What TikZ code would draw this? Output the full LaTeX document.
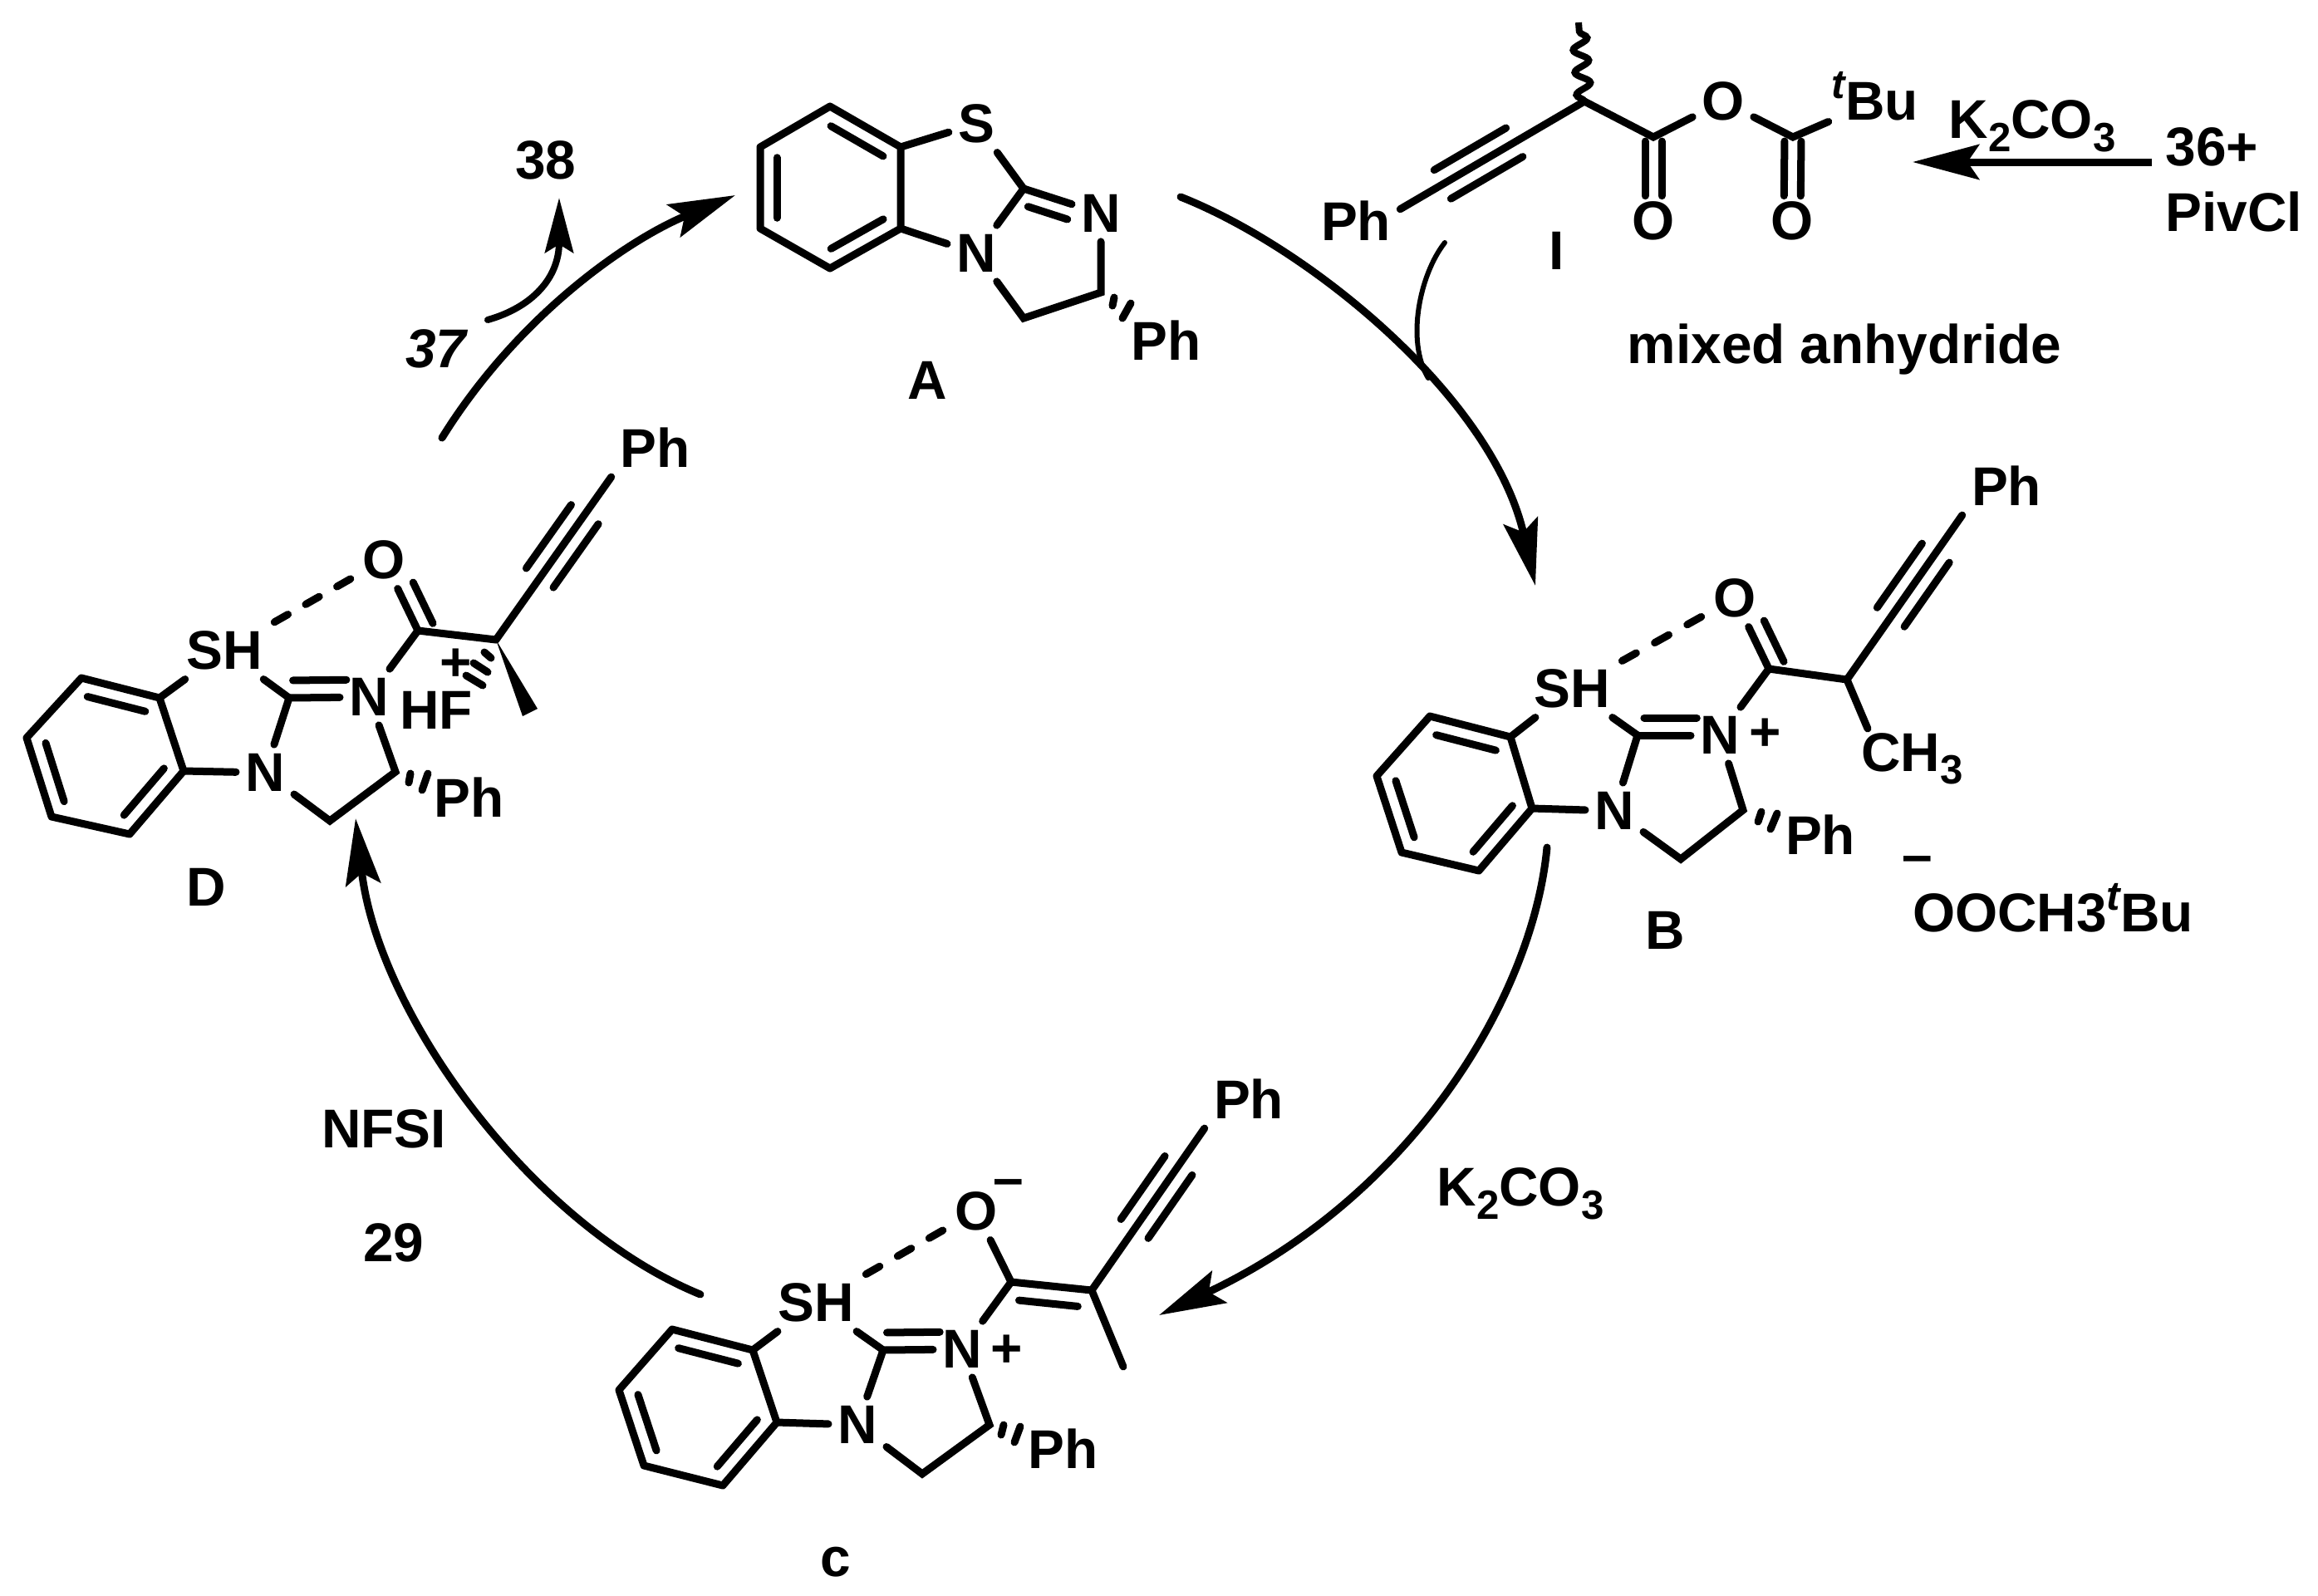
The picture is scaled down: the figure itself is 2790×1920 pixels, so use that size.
\documentclass[tikz,border=0pt]{standalone}
\usepackage{fontspec}
\setmainfont{Liberation Sans}[BoldFont=* Bold,ItalicFont=* Italic,BoldItalicFont=* Bold Italic]
\usetikzlibrary{calc,arrows.meta,decorations.pathmorphing}

\tikzset{
	atom/.style = {inner sep = 3pt},
	bond/.style = {line width = .09cm, line cap = round},
	wavy/.style = {line width = .08cm, decorate, decoration = {snake, amplitude = .09cm, segment length = .27cm}},
	cycle arrow/.style = {line width = .09cm, line cap = round, -{Stealth[length = .8cm, width = .42cm, inset = .14cm]}}
}

% line beside the bond a-b: offset, start and end as fractions of a-b
\newcommand{\sidebond}[5]{\draw[bond] ($(#1)!#4!(#2)!#3!90:(#2)$) -- ($(#1)!#5!(#2)!#3!90:(#2)$);}
\newcommand{\triplebond}[2]{
	\draw[bond] (#1) -- (#2);
	\sidebond{#1}{#2}{.2cm}{.38}{.77}
	\sidebond{#1}{#2}{-.2cm}{.38}{.77}
}
% three dashes between two atoms
\newcommand{\hbond}[2]{
	\path (#1) -- (#2) coordinate[pos = 0] (hs) coordinate[pos = 1] (he);
	\foreach \from/\to in {.034/.2, .417/.583, .8/.966}
		\draw[bond] ($(hs)!\from!(he)$) -- ($(hs)!\to!(he)$);
}
% benzene ring, vertices #11 to #16 clockwise from the top
\newcommand{\benzene}[1]{
	\draw[bond, line join = round] (#11) -- (#12) -- (#13) -- (#14) -- (#15) -- (#16) -- cycle;
	\sidebond{#11}{#12}{-.2cm}{.13}{.87}
	\sidebond{#13}{#14}{-.2cm}{.13}{.87}
	\sidebond{#15}{#16}{-.2cm}{.13}{.87}
}
\newcommand{\chemsub}[1]{\raisebox{-.45ex}{\fontsize{14}{14}\selectfont #1}}
\newcommand{\chemt}{\smash{\raisebox{.75ex}{\fontsize{14}{14}\selectfont\itshape t}}}

\begin{document}
\begin{tikzpicture}[
			x = .01cm, y = -.01cm,
			every node/.style = {inner sep = 0pt, font = \fontsize{18.7}{22}\selectfont\bfseries}
			]
			\useasboundingbox (0,0) rectangle (2790,1920);

			% A
			\coordinate (a1) at (999,128);
			\coordinate (a2) at (1084,177);
			\coordinate (a3) at (1084,275);
			\coordinate (a4) at (999,323);
			\coordinate (a5) at (915,275);
			\coordinate (a6) at (915,177);
			\coordinate (aC) at (1232,227);
			\coordinate (aCa) at (1232,383);
			\coordinate (aCb) at (1325,352);
			\node[atom] (aS) at (1175,149) {S};
			\node[atom] (aNa) at (1175,305) {N};
			\node[atom] (aNb) at (1325,257) {N};
			\node[atom] (aPh) at (1404,410) {Ph};
			\node (aLabel) at (1116,458) {A};
			\benzene{a}
			\draw[bond] (a2) -- (aS);
			\draw[bond] (aS) -- (aC);
			\draw[bond] (a3) -- (aNa);
			\draw[bond] (aNa) -- (aC);
			\draw[bond] (aC) -- (aNb);
			\sidebond{aC}{aNb}{-.19cm}{.12}{.63}
			\draw[bond] (aNa) -- (aCa) -- (aCb) -- (aNb);
			\draw[bond] (1341,358) -- (1339,368);
			\draw[bond] (1361,365) -- (1351,383);

			% I
			\coordinate (iCa) at (1907,122);
			\coordinate (iWave) at (1900,27);
			\coordinate (iCb) at (1990,165);
			\coordinate (iCc) at (2158,165);
			\node[atom] (iPh) at (1632,266) {Ph};
			\node[atom] (iO) at (2074,122) {O};
			\node[atom] (iOa) at (1990,266) {O};
			\node[atom] (iOb) at (2157,266) {O};
			\node[inner sep = 1pt] (iBu) at (2257,122) {\chemt Bu};
			\node (iLabel) at (1874,302) {I};
			\node (iName) at (2220,420) {mixed anhydride};
			\triplebond{iCa}{iPh.15}
			\draw[wavy] (iCa) -- (iWave);
			\draw[bond] (iCa) -- (iCb) -- (iO) -- (iCc) -- (iBu);
			\sidebond{iCb}{iOa}{.1cm}{.05}{.7}
			\sidebond{iCb}{iOa}{-.1cm}{.05}{.7}
			\sidebond{iCc}{iOb}{.1cm}{.05}{.7}
			\sidebond{iCc}{iOb}{-.1cm}{.05}{.7}

			% reagents of I
			\node (kcoTop) at (2446,152) {K\chemsub{2}CO\chemsub{3}};
			\node[anchor = west] (numTop) at (2606,177) {36+};
			\node[anchor = west] (pivTop) at (2606,255) {PivCl};
			\coordinate (kcoStart) at (2590,195);
			\coordinate (kcoEnd) at (2302,195);
			\draw[cycle arrow, line cap = butt] (kcoStart) -- (kcoEnd);

			% B
			\coordinate (b1) at (1721,862);
			\coordinate (b2) at (1818,887);
			\coordinate (b3) at (1844,973);
			\coordinate (b4) at (1780,1048);
			\coordinate (b5) at (1687,1026);
			\coordinate (b6) at (1657,934);
			\coordinate (bC) at (1971,885);
			\coordinate (bCa) at (2023,1034);
			\coordinate (bCb) at (2098,975);
			\coordinate (bCc) at (2129,805);
			\coordinate (bCd) at (2223,818);
			\node[atom] (bSH) at (1892,829) {SH};
			\node[atom] (bNa) at (1943,976) {N};
			\node[atom] (bNb) at (2070,885) {N};
			\node (bPlus) at (2125,884) {+};
			\node[atom] (bO) at (2088,720) {O};
			\node[atom] (bPhTop) at (2415,585) {Ph};
			\node[inner sep = 1pt, anchor = north west] (bMe) at (2236,878) {CH\chemsub{3}};
			\node[atom] (bPh) at (2191,1005) {Ph};
			\node (bMinus) at (2308,1041) {--};
			\node (bAnion) at (2471,1099) {OOCH3\chemt Bu};
			\node (bLabel) at (2004,1120) {B};
			\benzene{b}
			\draw[bond] (b2) -- (bSH);
			\draw[bond] (b3) -- (bNa);
			\draw[bond] (bSH) -- (bC);
			\draw[bond] (bC) -- (bNa);
			\draw[bond] (bC) -- (bNb);
			\sidebond{bC}{bNb}{.21cm}{.08}{.72}
			\draw[bond] (bNa) -- (bCa) -- (bCb) -- (bNb);
			\draw[bond] (bNb) -- (bCc) -- (bCd);
			\draw[bond] (bCd) -- ($(bMe.north west)+(12,-1)$);
			\draw[bond] (bCc) -- (bO);
			\sidebond{bCc}{bO}{-.2cm}{.0}{.58}
			\triplebond{bCd}{bPhTop.south west}
			\hbond{bSH}{bO}
			\draw[bond] (2120,977) -- (2116,989);
			\draw[bond] (2139,979) -- (2131,998);

			% c
			\coordinate (c1) at (809,1600);
			\coordinate (c2) at (906,1625);
			\coordinate (c3) at (935,1712);
			\coordinate (c4) at (870,1788);
			\coordinate (c5) at (775,1764);
			\coordinate (c6) at (745,1673);
			\coordinate (cC) at (1063,1625);
			\coordinate (cCa) at (1110,1774);
			\coordinate (cCb) at (1191,1715);
			\coordinate (cCc) at (1217,1543);
			\coordinate (cCd) at (1314,1553);
			\coordinate (cMe) at (1352,1645);
			\node[atom] (cSH) at (982,1568) {SH};
			\node[atom] (cNa) at (1032,1715) {N};
			\node[atom] (cNb) at (1158,1624) {N};
			\node (cPlus) at (1212,1626) {+};
			\node[atom] (cO) at (1175,1458) {O};
			\node (cMinus) at (1214,1430) {--};
			\node[atom] (cPhTop) at (1503,1323) {Ph};
			\node[atom] (cPh) at (1280,1744) {Ph};
			\node (cLabel) at (1006,1880) {c};
			\benzene{c}
			\draw[bond] (c2) -- (cSH);
			\draw[bond] (c3) -- (cNa);
			\draw[bond] (cSH) -- (cC);
			\draw[bond] (cC) -- (cNa);
			\draw[bond] (cC) -- (cNb);
			\sidebond{cC}{cNb}{.21cm}{.05}{.72}
			\draw[bond] (cNa) -- (cCa) -- (cCb) -- (cNb);
			\draw[bond] (cNb) -- (cCc) -- (cCd) -- (cMe);
			\draw[bond] (cCc) -- (cO);
			\sidebond{cCc}{cCd}{-.21cm}{.12}{.85}
			\triplebond{cCd}{cPhTop.south west}
			\hbond{cSH}{cO}
			\draw[bond] (1208,1715) -- (1205,1727);
			\draw[bond] (1228,1717) -- (1221,1736);

			% D
			\coordinate (d1) at (98,816);
			\coordinate (d2) at (192,840);
			\coordinate (d3) at (221,928);
			\coordinate (d4) at (156,1004);
			\coordinate (d5) at (62,983);
			\coordinate (d6) at (32,888);
			\coordinate (dC) at (348,840);
			\coordinate (dCa) at (397,988);
			\coordinate (dCb) at (476,929);
			\coordinate (dCc) at (503,759);
			\coordinate (dCd) at (597,770);
			\coordinate (dWa) at (647,853);
			\coordinate (dWb) at (629,862);
			\node[atom] (dSH) at (270,783) {SH};
			\node[atom] (dNa) at (319,930) {N};
			\node[atom] (dNb) at (444,839) {N};
			\node (dHF) at (525,855) {HF};
			\node (dPlus) at (549,800) {+};
			\node[atom] (dO) at (462,674) {O};
			\node[atom] (dPhTop) at (789,539) {Ph};
			\node[atom] (dPh) at (565,960) {Ph};
			\node (dLabel) at (248,1068) {D};
			\benzene{d}
			\draw[bond] (d2) -- (dSH);
			\draw[bond] (d3) -- (dNa);
			\draw[bond] (dSH) -- (dC);
			\draw[bond] (dC) -- (dNa);
			\draw[bond] (dC) -- (dNb);
			\sidebond{dC}{dNb}{.21cm}{.05}{.72}
			\draw[bond] (dNa) -- (dCa) -- (dCb) -- (dNb);
			\draw[bond] (dNb) -- (dCc) -- (dCd);
			\draw[bond] (dCc) -- (dO);
			\sidebond{dCc}{dO}{-.2cm}{.0}{.58}
			\triplebond{dCd}{dPhTop.south west}
			\hbond{dSH}{dO}
			\fill (dCd) -- (dWa) -- (dWb) -- cycle;
			\draw[bond] (583,785) -- (591,792);
			\draw[bond] (570,798) -- (587,809);
			\draw[bond] (561,813) -- (581,825);
			\draw[bond] (494,931) -- (492,942);
			\draw[bond] (515,931) -- (508,951);

			% cycle
			\coordinate (ab0) at (1421,237);
			\coordinate (ab1) at (1848,705);
			\coordinate (bc0) at (1862,1020);
			\coordinate (bc1) at (1395,1583);
			\coordinate (cd0) at (843,1558);
			\coordinate (cd1) at (428,985);
			\coordinate (da0) at (532,527);
			\coordinate (da1) at (885,235);
			\coordinate (ia0) at (1739,292);
			\coordinate (ia1) at (1719,455);
			\coordinate (ss0) at (587,385);
			\coordinate (ss1) at (673,238);
			\draw[cycle arrow] (ab0) .. controls (1580,300) and (1797,480) .. (ab1);
			\draw[cycle arrow] (bc0) .. controls (1845,1200) and (1700,1440) .. (bc1);
			\draw[cycle arrow] (cd0) .. controls (640,1475) and (455,1220) .. (cd1);
			\draw[cycle arrow] (da0) .. controls (620,385) and (750,291) .. (da1);
			\draw[line width = .06cm, line cap = round] (ia0) .. controls (1709,330) and (1692,410) .. (ia1);
			\draw[line width = .08cm, line cap = round, -{Stealth[length = .66cm, width = .34cm, inset = .1cm]}] (ss0) .. controls (640,370) and (673,335) .. (ss1);

			\node (numIn) at (525,420) {\itshape 37};
			\node (numOut) at (657,193) {38};
			\node (kcoBot) at (1830,1437) {K\chemsub{2}CO\chemsub{3}};
			\node (nfsi) at (462,1359) {NFSI};
			\node (numNf) at (474,1496) {29};

		\end{tikzpicture}
\end{document}
